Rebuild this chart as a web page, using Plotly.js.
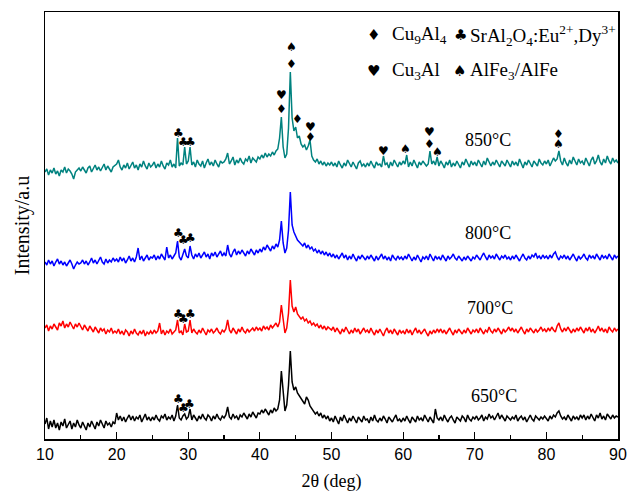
<!DOCTYPE html>
<html>
<head>
<meta charset="utf-8">
<script src="https://cdn.plot.ly/plotly-3.0.1.min.js"></script>
<style>html,body{margin:0;padding:0;background:#fff;}#chart{width:627px;height:497px;}</style>
</head>
<body>
<div id="chart"></div>
<script>
// 2θ sampling grid (deg)
const twoThetaStart = 10;
const twoThetaStep = 0.25;
const twoThetaCount = 321;
const twoTheta = Array.from({length: twoThetaCount}, (_, i) => twoThetaStart + i * twoThetaStep);

// Intensity (a.u., stacked as in the figure), one value per 0.25°, rows = 5° each
const i850 = [
268,271,265,270,267,272,266,269,264,270,268,273,267,271,269,266,261,268,270,272,
269,273,270,267,272,274,268,271,275,270,273,269,272,276,270,274,271,268,273,275,
276,280,273,270,275,272,277,271,274,278,272,275,270,276,273,279,274,271,277,273,
275,278,272,276,273,279,274,271,277,275,280,273,276,272,302,274,277,275,293,276,
279,293,275,278,273,280,276,274,279,272,277,281,275,278,274,280,276,273,279,277,
278,281,287,276,279,283,275,280,277,282,278,276,281,279,284,277,282,280,278,283,
281,285,282,287,283,286,284,288,285,289,291,302,323,293,282,286,312,368,322,309,
313,302,304,296,293,295,290,294,300,284,280,278,281,276,279,275,278,274,277,275,
278,274,277,273,279,275,272,277,274,280,276,273,278,275,271,277,279,274,276,273,
277,274,279,275,272,278,275,276,273,284,275,277,272,278,274,280,276,273,278,275,
279,276,285,273,278,274,280,276,272,278,275,279,277,274,276,289,276,279,275,283,
274,279,276,272,278,275,280,273,277,274,279,276,272,278,275,281,276,273,279,275,
278,274,280,276,273,279,275,282,277,274,278,275,280,276,273,279,277,274,280,276,
273,279,275,278,274,281,276,272,278,275,280,277,273,279,276,274,281,277,275,279,
276,280,274,278,282,279,281,289,279,275,282,277,274,280,276,283,278,275,281,277,
279,275,282,277,274,280,283,276,279,285,278,275,281,277,284,279,276,282,278,280,
277];

const i800 = [
178,175,180,176,179,174,178,181,176,179,175,178,174,177,180,176,171,175,178,176,
177,180,176,179,175,178,182,177,180,176,179,183,178,176,181,177,180,178,182,179,
181,178,183,179,182,177,180,184,179,182,178,183,192,180,184,179,182,185,180,183,
182,185,180,184,181,186,183,180,193,182,185,181,184,187,199,183,180,186,191,184,
182,194,185,181,186,183,187,182,185,188,183,186,181,187,184,188,183,186,189,184,
187,184,195,186,183,188,191,185,189,186,190,187,184,189,186,191,188,185,190,187,
191,188,193,190,195,192,189,194,191,196,193,200,219,197,187,192,210,248,215,208,
203,200,198,196,194,197,192,195,191,193,189,191,187,190,186,189,185,188,184,187,
183,186,182,185,181,184,187,182,185,180,184,181,186,182,179,184,181,185,182,180,
184,181,185,182,179,184,180,183,186,181,184,180,183,179,185,182,180,184,181,183,
180,184,181,186,182,179,183,180,185,182,178,183,181,184,180,186,182,179,184,181,
183,180,185,182,179,184,181,183,186,182,180,184,181,179,183,180,184,182,179,183,
181,185,182,180,184,187,183,180,185,182,184,181,186,183,180,184,182,185,181,183,
180,184,181,185,182,179,183,186,182,180,184,181,185,183,187,182,184,181,185,182,
184,181,185,182,186,188,183,180,184,182,185,181,184,180,183,186,182,179,184,181,
183,186,182,180,185,182,184,181,186,183,180,185,182,184,181,186,183,180,185,182,
184];

const i700 = [
112,115,109,114,111,116,113,110,117,114,119,112,116,113,118,115,111,116,113,117,
114,110,115,112,109,114,111,108,113,110,107,112,109,111,106,110,108,112,107,109,
107,111,106,109,105,110,108,104,109,106,111,107,105,109,106,110,104,108,106,109,
106,110,107,109,117,106,110,105,109,107,111,106,108,110,120,107,109,105,116,108,
109,120,107,111,108,106,110,107,112,109,105,110,108,111,107,109,112,108,106,110,
108,111,120,110,107,112,109,106,111,108,113,109,107,111,108,110,112,109,113,110,
112,109,114,111,113,110,115,112,114,117,113,118,135,120,107,112,127,160,134,128,
133,126,124,121,123,119,121,117,119,115,117,114,116,112,115,111,114,110,113,111,
110,113,108,112,109,106,111,108,113,109,106,110,107,112,108,111,106,109,112,108,
110,107,112,108,105,110,107,111,108,104,109,112,107,110,106,111,108,105,110,107,
109,106,111,107,110,105,109,112,107,110,106,109,111,107,104,109,106,110,107,111,
108,111,107,110,106,109,112,108,105,110,107,111,108,106,110,107,112,109,106,110,
108,111,107,112,109,106,110,108,113,109,107,111,108,112,109,106,111,108,110,113,
109,112,108,111,107,110,113,109,106,111,108,112,109,107,111,108,110,113,109,111,
108,112,109,113,110,108,114,117,111,108,112,109,113,110,107,111,108,112,109,113,
110,107,112,109,113,108,111,107,110,114,109,112,108,111,107,113,110,108,112,109,
111];

const i650 = [
16,22,11,19,13,20,12,17,10,18,14,21,12,16,19,11,17,13,20,15,
12,18,14,10,17,13,19,15,11,18,14,20,16,12,19,15,17,13,18,16,
27,20,24,19,23,18,22,25,20,24,19,23,21,25,18,22,26,20,23,19,
23,20,25,21,19,24,22,26,20,23,21,25,19,24,35,22,20,24,26,21,
23,31,20,25,22,19,24,21,26,22,20,25,23,19,24,21,26,22,20,24,
22,25,33,23,21,26,22,24,20,25,23,27,24,21,26,23,28,25,22,27,
26,30,27,31,28,25,30,27,32,29,31,40,69,45,29,35,55,89,58,50,
53,47,44,41,38,36,43,40,34,31,29,26,28,24,27,22,25,21,24,19,
22,18,24,20,16,23,19,25,21,17,22,19,24,20,17,23,21,18,24,20,
21,17,23,19,25,20,18,22,19,24,21,17,23,20,18,22,25,19,21,18,
22,19,24,20,17,23,21,18,24,20,22,19,25,21,18,23,20,17,31,22,
20,23,19,25,21,18,22,24,20,17,23,21,19,24,22,18,25,21,19,23,
21,24,20,22,25,19,23,21,26,22,24,20,23,27,21,25,22,19,24,22,
20,23,21,25,19,22,24,20,23,18,22,25,21,19,24,22,20,23,21,24,
22,19,24,21,25,23,27,29,24,21,23,20,25,22,19,24,21,23,20,25,
22,25,20,24,21,26,23,19,25,22,27,21,24,20,26,23,21,25,22,24,
23];

const seriesNames = ['850°C', '800°C', '700°C', '650°C'];
const seriesData = [i850, i800, i700, i650];
const seriesColors = ['#00827f', '#0000ff', '#ff0000', '#000000'];

// Phase markers: symbol, 2θ, intensity
const markSym = ['♣','♣','♣','♥','♦','♠','♦','♦','♥','♦','♥','♠','♥','♦','♠','♦','♠',
                 '♣','♣','♣', '♣','♣','♣', '♣','♣','♣'];
const markX   = [28.6,29.4,30.3,43.0,43.0,44.4,44.4,45.3,47.0,47.0,57.2,60.4,63.7,63.7,64.8,81.7,81.7,
                 28.6,29.4,30.3, 28.6,29.4,30.3, 28.6,29.4,30.2];
const markY   = [307,298,298,345,331,393,376,321,313,303,289,291,308,296,288,306,296,
                 207,200,202, 126,121,126, 41,32,36];

// Temperature labels
const tempLabelX = [71.9, 71.9, 72.1, 72.7];
const tempLabelY = [300, 207, 132, 44];

seriesData.forEach((d, k) => { if (d.length !== twoThetaCount) throw new Error(seriesNames[k] + ' length ' + d.length); });

const traces = seriesData.map((d, k) => ({
  x: twoTheta, y: d, type: 'scatter', mode: 'lines', name: seriesNames[k],
  line: {color: seriesColors[k], width: 1.5}, hoverinfo: 'skip'
}));

const serif = 'Liberation Serif, Times New Roman, serif';
const annotations = [];
markSym.forEach((s, i) => annotations.push({
  x: markX[i], y: markY[i], xref: 'x', yref: 'y', text: s, showarrow: false,
  font: {family: 'DejaVu Sans', size: 12, color: '#000'}
}));
seriesNames.forEach((n, k) => annotations.push({
  x: tempLabelX[k], y: tempLabelY[k], xref: 'x', yref: 'y', text: n, showarrow: false,
  font: {family: serif, size: 18, color: '#000'}
}));
// Legend key (top right)
const keySym = ['♦','♣','♥','♠'];
const keyText = ['Cu<sub>9</sub>Al<sub>4</sub>', 'SrAl<sub>2</sub>O<sub>4</sub>:Eu<sup>2+</sup>,Dy<sup>3+</sup>',
                 'Cu<sub>3</sub>Al', 'AlFe<sub>3</sub>/AlFe'];
const keySymX = [55.8, 68.0, 55.8, 67.9];
const keyTextX = [58.1, 69.1, 58.1, 69.1];
const keyY = [405, 405, 369, 369];
keySym.forEach((s, i) => {
  annotations.push({x: keySymX[i], y: keyY[i], xref: 'x', yref: 'y', text: s, showarrow: false,
    font: {family: 'DejaVu Sans', size: 15, color: '#000'}});
  annotations.push({x: keyTextX[i], y: keyY[i], xref: 'x', yref: 'y', text: keyText[i], showarrow: false,
    xanchor: 'left', font: {family: serif, size: 19, color: '#000'}});
});

const layout = {
  width: 627, height: 497,
  margin: {l: 45, r: 9, t: 12, b: 58},
  paper_bgcolor: '#fff', plot_bgcolor: '#fff',
  showlegend: false,
  xaxis: {
    range: [10, 90], dtick: 10, tick0: 10,
    ticks: 'inside', ticklen: 7, tickwidth: 1.2, tickcolor: '#000',
    minor: {dtick: 5, ticks: 'inside', ticklen: 4, tickwidth: 1.2, tickcolor: '#000'},
    showline: true, linecolor: '#000', linewidth: 1.5, mirror: true,
    showgrid: false, zeroline: false,
    tickfont: {family: 'Liberation Sans, Arial, sans-serif', size: 16, color: '#000'},
    title: {text: '2θ (deg)', font: {family: serif, size: 18, color: '#000'}, standoff: 12}
  },
  yaxis: {
    range: [1, 428], showticklabels: false, ticks: '',
    showline: true, linecolor: '#000', linewidth: 1.5, mirror: true,
    showgrid: false, zeroline: false,
    title: {text: 'Intensity/a.u', font: {family: serif, size: 20, color: '#000'}, standoff: 8}
  },
  annotations: annotations
};

Plotly.newPlot('chart', traces, layout, {displayModeBar: false, staticPlot: true});
</script>
</body>
</html>
